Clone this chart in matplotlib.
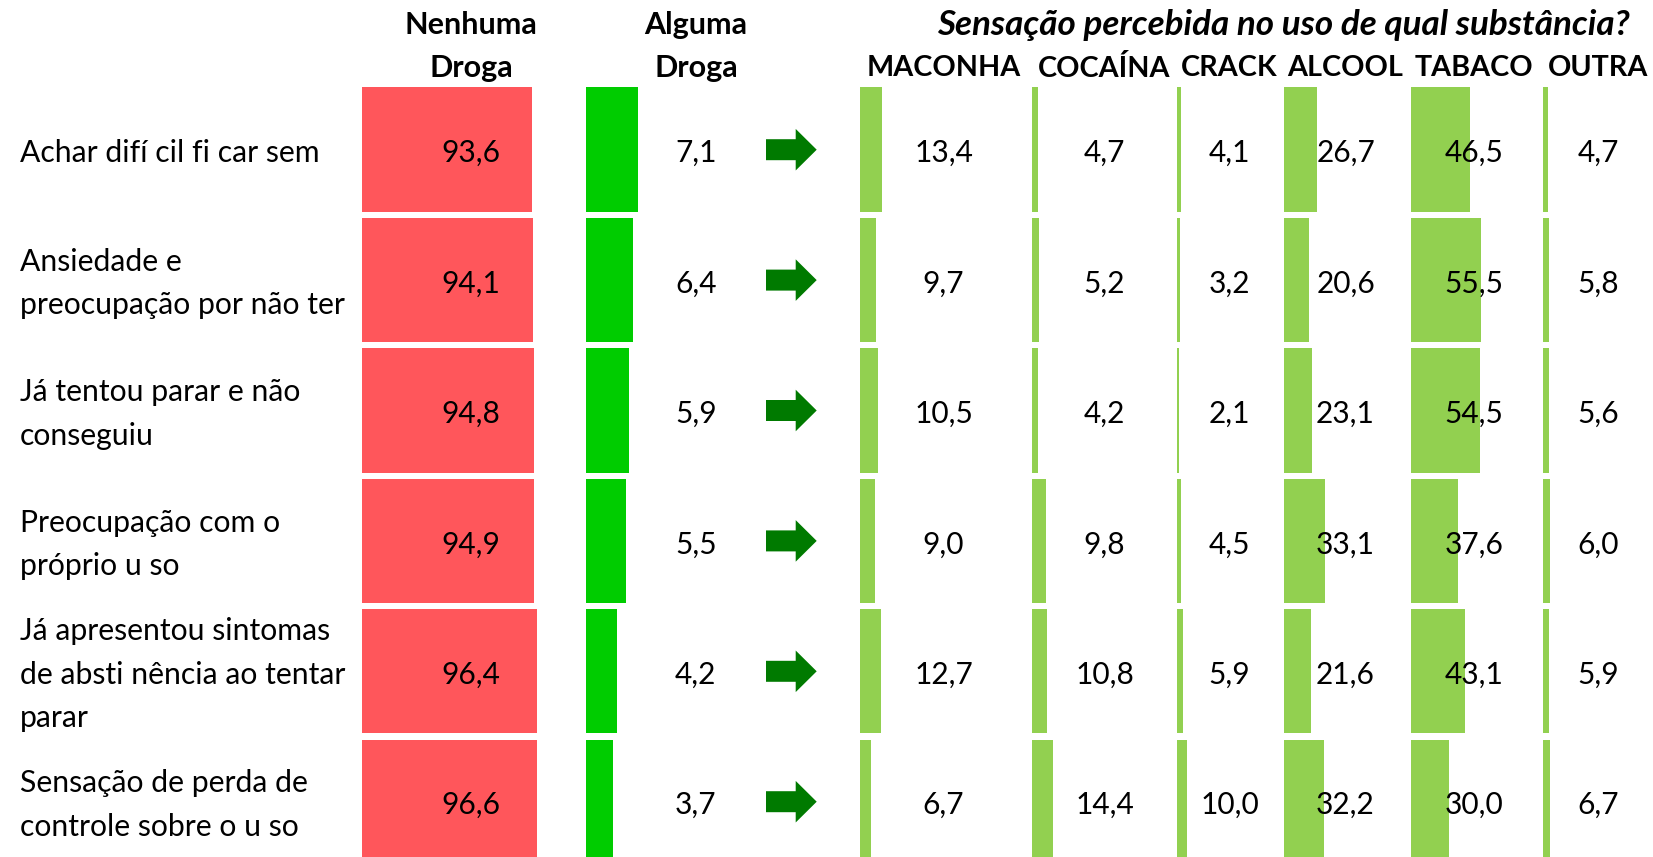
import numpy as np
import matplotlib.pyplot as plt
from matplotlib.patches import FancyArrow

plt.rcParams['font.family'] = ['Lato', 'DejaVu Sans']

# dados
rotulos = ['Achar difí cil fi car sem',
           'Ansiedade e\npreocupação por não ter',
           'Já tentou parar e não\nconseguiu',
           'Preocupação com o\npróprio u so',
           'Já apresentou sintomas\nde absti nência ao tentar\nparar',
           'Sensação de perda de\ncontrole sobre o u so']
nenhuma = [93.6, 94.1, 94.8, 94.9, 96.4, 96.6]
alguma = [7.1, 6.4, 5.9, 5.5, 4.2, 3.7]
substancias = ['MACONHA', 'COCAÍNA', 'CRACK', 'ALCOOL', 'TABACO', 'OUTRA']
maconha = [13.4, 9.7, 10.5, 9.0, 12.7, 6.7]
cocaina = [4.7, 5.2, 4.2, 9.8, 10.8, 14.4]
crack = [4.1, 3.2, 2.1, 4.5, 5.9, 10.0]
alcool = [26.7, 20.6, 23.1, 33.1, 21.6, 32.2]
tabaco = [46.5, 55.5, 54.5, 37.6, 43.1, 30.0]
outra = [4.7, 5.8, 5.6, 6.0, 5.9, 6.7]

W, H = 1653, 857
Y0, PASSO = 149.7, 130.4          # centro da 1a linha e passo (px)
YLIM = ((H - Y0) / PASSO, -Y0 / PASSO)
ALT = 124.4 / PASSO
DY = 3.5 / PASSO                  # texto um pouco abaixo do centro

def py(pix):
    return (pix - Y0) / PASSO

fig = plt.figure(figsize=(W / 100, H / 100), dpi=100)
fundo = fig.add_axes([0, 0, 1, 1])
fundo.set_xlim(0, W)
fundo.set_ylim(*YLIM)
fundo.axis('off')

linhas = np.arange(len(rotulos))

def coluna(esq, larg, xmax, valores, cor, xtxt):
    ax = fig.add_axes([esq / W, 0, larg / W, 1])
    ax.barh(linhas, valores, height=ALT, color=cor, align='center')
    ax.set_xlim(0, xmax)
    ax.set_ylim(*YLIM)
    ax.axis('off')
    for i, v in zip(linhas, valores):
        ax.text(xtxt, i + DY, '{:.1f}'.format(v).replace('.', ','), ha='center',
                va='center', fontsize=21.5, color='black')
    return ax

coluna(361.6, 182, 100, nenhuma, '#FF565B', 60)
coluna(585.5, 185, 25, alguma, '#00CC00', 14.9)

esqs = [860, 1031.5, 1176.5, 1284, 1410.5, 1543]
largs = [167, 146, 106, 123, 127, 110]
series = [maconha, cocaina, crack, alcool, tabaco, outra]
for esq, larg, nome, vals in zip(esqs, largs, substancias, series):
    coluna(esq, larg, 100, vals, '#92D050', 50)
    fundo.text(esq + larg / 2, py(68.5), nome, ha='center', va='center',
               fontsize=20.7, fontweight='bold')

# cabecalhos
for cx, t1 in [(471, 'Nenhuma'), (696, 'Alguma')]:
    fundo.text(cx, py(25), t1, ha='center', va='center', fontsize=22, fontweight='bold')
    fundo.text(cx, py(68.5), 'Droga', ha='center', va='center', fontsize=22, fontweight='bold')
fundo.text(1283.5, py(25), 'Sensação percebida no uso de qual substância?', ha='center',
           va='center', fontsize=25.2, fontweight='bold', fontstyle='italic')

# rotulos das linhas e setas
for i, r in zip(linhas, rotulos):
    fundo.text(20, i + DY, r, ha='left', va='center', fontsize=21.7, linespacing=1.67)
    fundo.add_patch(FancyArrow(766, i, 50.7, 0, width=0.161, head_width=0.319,
                               head_length=21, length_includes_head=True,
                               color='#007A00', lw=0))

fig.savefig('out.png', dpi=100)
